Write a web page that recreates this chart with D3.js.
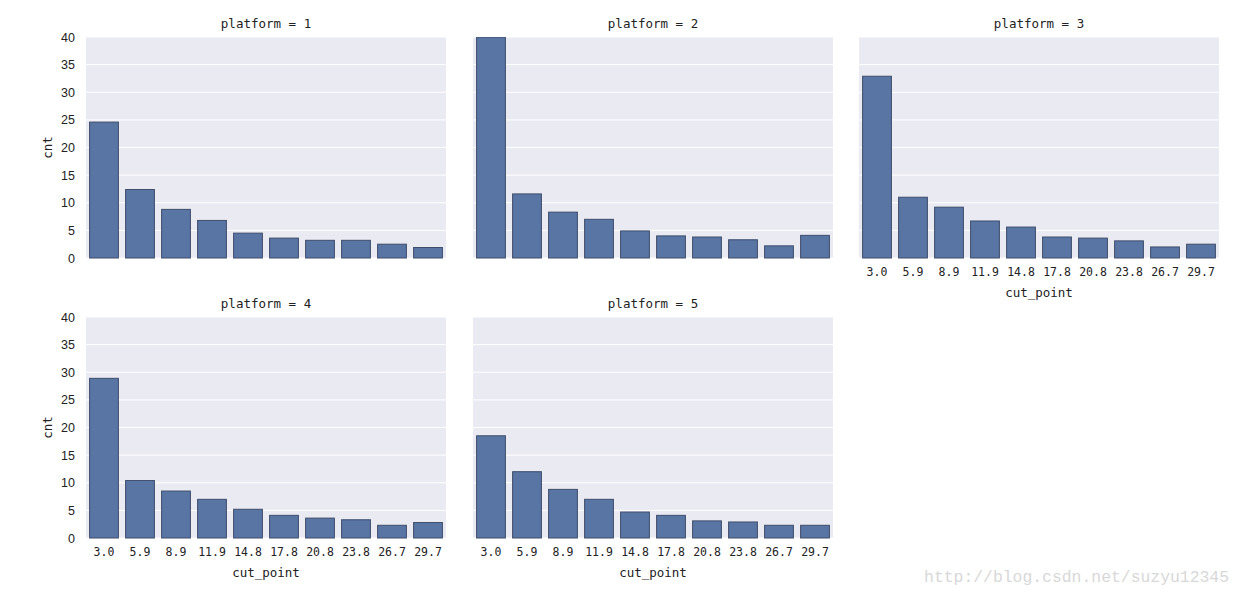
<!DOCTYPE html>
<html><head><meta charset="utf-8">
<script src="https://cdn.jsdelivr.net/npm/d3@7"></script>
<style>body{margin:0;background:#fff}</style>
</head><body>
<svg id="c" width="1245" height="596"></svg>
<script>
const categories = ["3.0","5.9","8.9","11.9","14.8","17.8","20.8","23.8","26.7","29.7"];
const platform1 = [24.6,12.4,8.8,6.8,4.5,3.6,3.2,3.2,2.5,1.9];
const platform2 = [40.0,11.6,8.3,7.0,4.9,4.0,3.8,3.3,2.2,4.1];
const platform3 = [32.9,11.0,9.2,6.7,5.6,3.8,3.6,3.1,2.0,2.5];
const platform4 = [28.9,10.4,8.5,7.0,5.2,4.1,3.6,3.3,2.3,2.8];
const platform5 = [18.5,12.0,8.8,7.0,4.7,4.1,3.1,2.9,2.3,2.3];
const yTicks = [0,5,10,15,20,25,30,35,40];
const panels = [
  {name:"platform = 1", values:platform1, col:0, row:0, yLab:true, xLab:false},
  {name:"platform = 2", values:platform2, col:1, row:0, yLab:false, xLab:false},
  {name:"platform = 3", values:platform3, col:2, row:0, yLab:false, xLab:true},
  {name:"platform = 4", values:platform4, col:0, row:1, yLab:true, xLab:true},
  {name:"platform = 5", values:platform5, col:1, row:1, yLab:false, xLab:true}
];
const svg = d3.select("#c");
const colX = [86, 473, 859], rowY = [37, 317];
const W = 360, H = 221;
const x = d3.scaleBand().domain(categories).range([0, W]).paddingInner(0.2).paddingOuter(0.1);
const y = d3.scaleLinear().domain([0, 40]).range([H, 0]);
const mono = "'DejaVu Sans Mono', monospace";
panels.forEach(p => {
  const g = svg.append("g").attr("transform", `translate(${colX[p.col]},${rowY[p.row]})`);
  g.append("rect").attr("width", W).attr("height", H).attr("fill", "#EAEAF2");
  g.selectAll("line.grid").data(yTicks).enter().append("line")
    .attr("x1", 0).attr("x2", W).attr("y1", d => y(d)).attr("y2", d => y(d))
    .attr("stroke", "#fff").attr("stroke-width", 1);
  const cp = "clip" + p.col + p.row;
  g.append("clipPath").attr("id", cp).append("rect").attr("x", -2).attr("y", 0).attr("width", W + 4).attr("height", H + 1);
  g.append("g").attr("clip-path", `url(#${cp})`).selectAll("rect.bar").data(p.values).enter().append("rect")
    .attr("x", (d, i) => x(categories[i])).attr("width", x.bandwidth())
    .attr("y", d => y(d)).attr("height", d => H - y(d))
    .attr("fill", "#5875A4").attr("stroke", "#3E4D6B").attr("stroke-width", 1);
  g.append("text").attr("x", W / 2).attr("y", -9).attr("text-anchor", "middle")
    .attr("font-family", mono).attr("font-size", 12.5).attr("fill", "#222").text(p.name);
  if (p.yLab) {
    const ya = g.append("g").attr("transform", "translate(0,0)")
      .call(d3.axisLeft(y).tickValues(yTicks).tickSize(0).tickPadding(11));
    ya.select(".domain").remove();
    ya.selectAll("text").attr("font-family", "'Liberation Sans Narrow','Liberation Sans',sans-serif")
      .attr("font-size", 12.5).attr("fill", "#222");
    g.append("text").attr("transform", `translate(-34,${H / 2}) rotate(-90)`).attr("text-anchor", "middle")
      .attr("font-family", mono).attr("font-size", 12.5).attr("fill", "#222").text("cnt");
  }
  if (p.xLab) {
    const xa = g.append("g").attr("transform", `translate(0,${H})`)
      .call(d3.axisBottom(x).tickSize(0).tickPadding(10));
    xa.select(".domain").remove();
    xa.selectAll("text").attr("font-family", mono).attr("font-size", 11.5).attr("fill", "#222");
    g.append("text").attr("x", W / 2).attr("y", H + 39).attr("text-anchor", "middle")
      .attr("font-family", mono).attr("font-size", 12.5).attr("fill", "#222").text("cut_point");
  }
});
svg.append("text").attr("x", 1229).attr("y", 582).attr("text-anchor", "end")
  .attr("font-family", "'Liberation Mono','DejaVu Sans Mono',monospace").attr("font-size", 16.4)
  .attr("fill", "#d8d8d8").text("http://blog.csdn.net/suzyu12345");
</script>
</body></html>
